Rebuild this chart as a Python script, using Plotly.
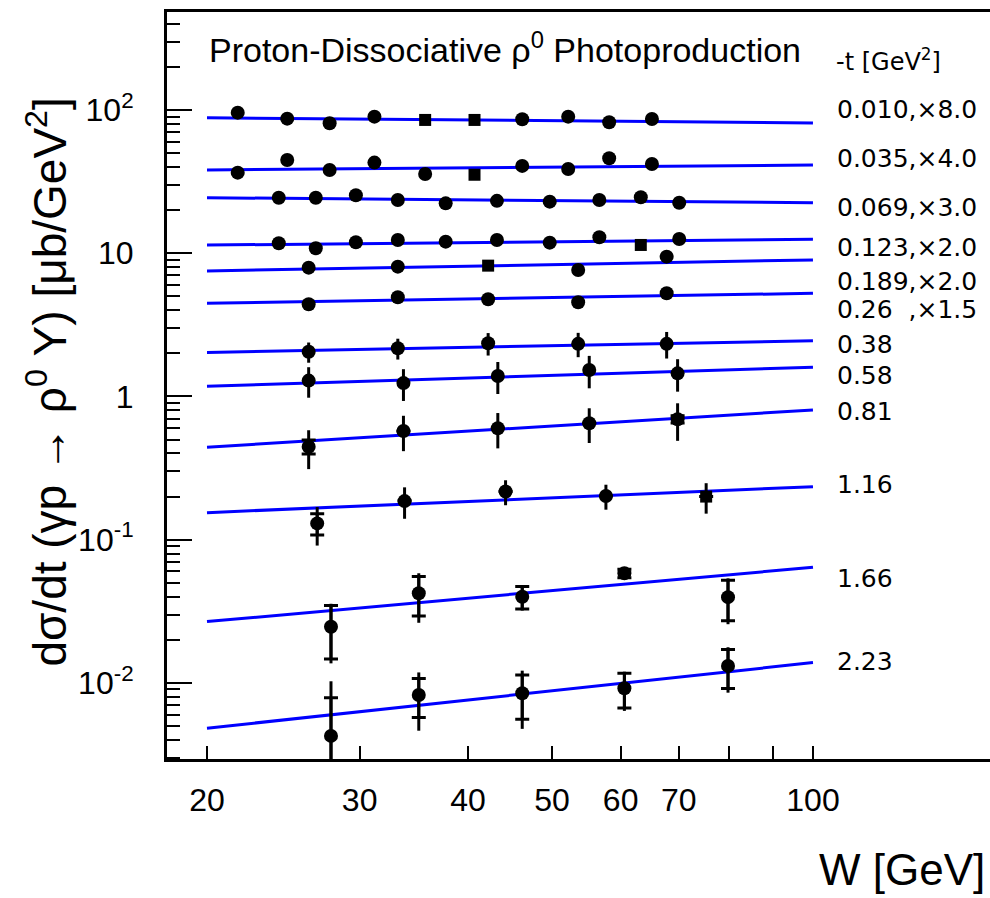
import numpy as np
import plotly.graph_objects as go

# ---------------- data ----------------
t_labels = ["0.010,×8.0", "0.035,×4.0", "0.069,×3.0", "0.123,×2.0", "0.189,×2.0",
            "0.26\u00a0\u00a0,×1.5", "0.38", "0.58", "0.81", "1.16", "1.66", "2.23"]

W_a = [21.7, 24.75, 27.7, 31.2, 35.7, 40.7, 46.2, 52.2, 58.2, 65.2]
W_b = [24.2, 26.7, 29.7, 33.2, 37.7, 43.2, 49.7, 56.7, 63.3, 70.1]
W_c = [26.2, 33.2, 42.2, 53.6, 67.8]
W_d = [26.2, 33.7, 43.3, 55.2, 69.8]
W_e = [26.8, 33.8, 44.2, 57.7, 75.3]
W_f = [27.8, 35.1, 46.2, 60.6, 79.8]

y_010 = [95.8, 87.0, 80.8, 89.8, 85.2, 85.2, 86.1, 89.8, 82.1, 86.5]
y_035 = [36.5, 44.8, 38.1, 42.9, 35.7, 35.3, 40.7, 38.7, 46.0, 42.0]
y_069 = [24.4, 24.4, 25.4, 23.5, 22.3, 23.2, 22.9, 23.5, 24.6, 22.5]
y_123 = [11.73, 10.83, 11.92, 12.38, 12.04, 12.38, 11.85, 12.93, 11.42, 12.58]
y_189 = [7.93, 8.06, 8.19, 7.64, 9.46]
y_26 = [4.40, 4.93, 4.77, 4.55, 5.25]
y_38 = [2.05, 2.17, 2.35, 2.33, 2.33]
y_58 = [1.29, 1.24, 1.39, 1.53, 1.45]
y_81 = [0.446, 0.574, 0.600, 0.650, 0.693]
y_116 = [0.130, 0.186, 0.217, 0.202, 0.200]
y_166 = [0.0247, 0.0423, 0.0400, 0.0583, 0.0397]
y_223 = [0.00427, 0.00824, 0.00848, 0.00918, 0.01315]

# total errors (upper / lower) and statistical errors
tot_38 = [0.33, 0.36, 0.42, 0.45, 0.49]
tot_58 = [0.31, 0.31, 0.35, 0.39, 0.37]
tot_81 = [0.135, 0.159, 0.166, 0.177, 0.203]
tot_116 = [0.039, 0.046, 0.043, 0.040, 0.048]
tot_166 = [0.011, 0.016, 0.008, 0.005, 0.014]
tot_223 = [0.006, 0.0036, 0.0037, 0.0028, 0.0046]
tot_223_lo = [0.0040, 0.0036, 0.0037, 0.0028, 0.0046]
stat_81 = [0.05, 0.0, 0.0, 0.0, 0.04]
stat_116 = [0.022, 0.0, 0.0, 0.0, 0.0]
stat_166 = [0.010, 0.013, 0.0072, 0.004, 0.0125]
stat_223 = [0.0036, 0.0025, 0.0029, 0.0025, 0.0040]

# power-law fit lines: value at W = 20 and W = 100 GeV
fit_W = [20, 100]
fit_lo = [88.3, 38.1, 24.4, 11.4, 7.52, 4.47, 2.03, 1.18, 0.442, 0.1545, 0.0268, 0.00483]
fit_hi = [81.1, 41.3, 22.5, 12.5, 8.98, 5.25, 2.45, 1.60, 0.805, 0.2346, 0.0642, 0.01387]

# label heights (data units) for the -t labels on the right
label_y = [100, 46.2, 21.0, 10.9, 6.30, 4.02, 2.29, 1.41, 0.78, 0.241, 0.054, 0.0142]

x_ticks = [20, 30, 40, 50, 60, 70, 100]
x_minor = [80, 90]
y_ticks = [0.01, 0.1, 1, 10, 100]
y_ticktext = ["10<sup>-2</sup>", "10<sup>-1</sup>", "1", "10", "10<sup>2</sup>"]

series = [
    (W_a, y_010, None, None, None), (W_a, y_035, None, None, None),
    (W_b, y_069, None, None, None), (W_b, y_123, None, None, None),
    (W_c, y_189, None, None, None), (W_c, y_26, None, None, None),
    (W_c, y_38, tot_38, None, None), (W_d, y_58, tot_58, None, None),
    (W_d, y_81, tot_81, None, stat_81), (W_e, y_116, tot_116, None, stat_116),
    (W_f, y_166, tot_166, None, stat_166), (W_f, y_223, tot_223, tot_223_lo, stat_223),
]
# marker shapes (square where the original shows one)
squares = {0: [4, 5], 1: [5], 3: [8], 4: [2], 9: [4]}

FONT = "Liberation Sans, Arial, Helvetica, sans-serif"
LABFONT = "DejaVu Sans, sans-serif"
fig = go.Figure()

for i in range(len(fit_lo)):
    fig.add_trace(go.Scatter(x=fit_W, y=[fit_lo[i], fit_hi[i]], mode="lines",
                             line=dict(color="#0000ff", width=3), showlegend=False,
                             hoverinfo="skip"))

for i, (W, y, tot, tot_lo, stat) in enumerate(series):
    if stat is not None:
        fig.add_trace(go.Scatter(x=W, y=y, mode="markers", marker=dict(size=1, opacity=0),
                                 error_y=dict(type="data", array=stat, visible=True,
                                              color="black", thickness=3, width=7),
                                 showlegend=False, hoverinfo="skip"))
    sym = ["square" if j in squares.get(i, []) else "circle" for j in range(len(W))]
    sz = [12 if s == "square" else 14 for s in sym]
    err = None
    if tot is not None:
        err = dict(type="data", array=tot, arrayminus=tot_lo if tot_lo else tot,
                   symmetric=False, visible=True, color="black", thickness=3, width=0)
    fig.add_trace(go.Scatter(x=W, y=y, mode="markers", opacity=1,
                             marker=dict(color="black", size=sz, symbol=sym, opacity=1,
                                         line=dict(width=0)),
                             error_y=err, showlegend=False))

annotations = []
for lab, ly in zip(t_labels, label_y):
    annotations.append(dict(text=lab, xref="paper", yref="y", x=0.8117, y=np.log10(ly),
                            xanchor="left", yanchor="middle", showarrow=False,
                            font=dict(family=LABFONT, size=25, color="black")))
annotations += [
    dict(text="Proton-Dissociative ρ<sup>0</sup> Photoproduction", xref="paper", yref="paper",
         x=0.0486, y=0.953, xanchor="left", yanchor="middle", showarrow=False,
         font=dict(family=FONT, size=34, color="black")),
    dict(text="-t [GeV<sup>2</sup>]", xref="paper", yref="paper",
         x=0.810, y=0.936, xanchor="left", yanchor="middle", showarrow=False,
         font=dict(family=LABFONT, size=24, color="black")),
    dict(text="dσ/dt (γp → ρ<sup>0</sup> Y) [μb/GeV<sup>2</sup>]", xref="paper", yref="paper",
         x=-0.146, y=0.505, xanchor="center", yanchor="middle", textangle=-90, showarrow=False,
         font=dict(family=FONT, size=46, color="black")),
    dict(text="W [GeV]", xref="paper", yref="paper", x=0.996, y=-0.1835,
         xanchor="right", yanchor="bottom", showarrow=False,
         font=dict(family=FONT, size=44, color="black")),
]

y_minor = [k * 10.0 ** e for e in range(-3, 3) for k in range(2, 10)]

fig.update_layout(
    width=990, height=898,
    margin=dict(l=167, r=0, t=12, b=139),
    paper_bgcolor="white", plot_bgcolor="white",
    annotations=annotations,
    shapes=[dict(type="line", xref="x", yref="paper", x0=2, x1=2, y0=0, y1=25 / 747,
                 line=dict(color="black", width=1.5))],
    xaxis=dict(type="log", range=[1.25489, 2.2042], showgrid=False, zeroline=False,
               showline=True, linecolor="black", linewidth=3, mirror=True,
               tickmode="array", tickvals=x_ticks, ticktext=[str(v) for v in x_ticks],
               ticks="inside", ticklen=13, tickwidth=1.5, tickcolor="black",
               ticklabelstandoff=11,
               tickfont=dict(family=FONT, size=32, color="black"),
               minor=dict(tickmode="array", tickvals=x_minor, ticks="inside", ticklen=13,
                          tickwidth=1.5, tickcolor="black", showgrid=False)),
    yaxis=dict(type="log", range=[-2.531, 2.684], showgrid=False, zeroline=False,
               showline=True, linecolor="black", linewidth=3, mirror=False,
               tickmode="array", tickvals=y_ticks, ticktext=y_ticktext,
               ticks="inside", ticklen=25, tickwidth=1.5, tickcolor="black",
               ticklabelstandoff=24,
               tickfont=dict(family=FONT, size=32, color="black"),
               minor=dict(tickmode="array", tickvals=y_minor, ticks="inside", ticklen=13,
                          tickwidth=1.5, tickcolor="black", showgrid=False)),
)

fig.write_html("out.html")
